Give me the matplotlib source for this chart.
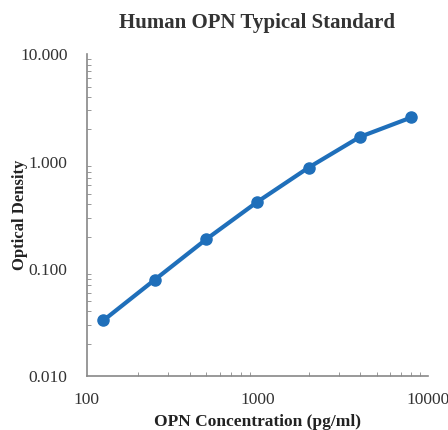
import numpy as np
import matplotlib.pyplot as plt
from matplotlib.ticker import FixedLocator, LogLocator, NullFormatter

# standard curve readings
conc = [125, 250, 500, 1000, 2000, 4000, 8000]
od = [0.033, 0.079, 0.188, 0.421, 0.88, 1.70, 2.58]

xticks = [100, 1000, 10000]
yticks = [0.01, 0.1, 1, 10]
ylabels = ["0.010", "0.100", "1.000", "10.000"]

plt.rcParams['font.family'] = ['Liberation Serif', 'DejaVu Serif']

fig = plt.figure(figsize=(4.48, 4.30), dpi=100)
ax = fig.add_axes([0.194, 0.1256, 0.761, 0.748])

ax.plot(conc, od, color='#1f6fba', lw=3, marker='o', ms=8, solid_capstyle='round')

ax.set_xscale('log')
ax.set_yscale('log')
ax.set_xlim(100, 10000)
ax.set_ylim(0.01, 10)

ax.xaxis.set_major_locator(FixedLocator(xticks))
ax.set_xticklabels([str(v) for v in xticks])
ax.yaxis.set_major_locator(FixedLocator(yticks))
ax.set_yticklabels(ylabels)
ax.xaxis.set_minor_locator(LogLocator(base=10, subs=np.arange(2, 10)))
ax.yaxis.set_minor_locator(LogLocator(base=10, subs=np.arange(2, 10)))
ax.xaxis.set_minor_formatter(NullFormatter())
ax.yaxis.set_minor_formatter(NullFormatter())

for s in ['top', 'right']:
    ax.spines[s].set_visible(False)
for s in ['left', 'bottom']:
    ax.spines[s].set_color('#888888')
    ax.spines[s].set_linewidth(1.2)

ax.tick_params(which='major', direction='in', length=0, labelsize=12.5, colors='#333333')
ax.tick_params(which='minor', direction='in', length=3, color='#888888')
ax.tick_params(axis='y', which='major', pad=14)
ax.tick_params(axis='x', which='major', pad=11.5)

ax.set_title("Human OPN Typical Standard", fontsize=15, fontweight='bold', color='#333333', pad=19)
ax.set_xlabel("OPN Concentration (pg/ml)", fontsize=12.5, fontweight='bold', color='#222222', labelpad=4)
ax.set_ylabel("Optical Density", fontsize=12, fontweight='bold', color='#222222', va='center')
ax.yaxis.set_label_coords(-0.196, 0.5)

fig.savefig("out.png", dpi=100)
